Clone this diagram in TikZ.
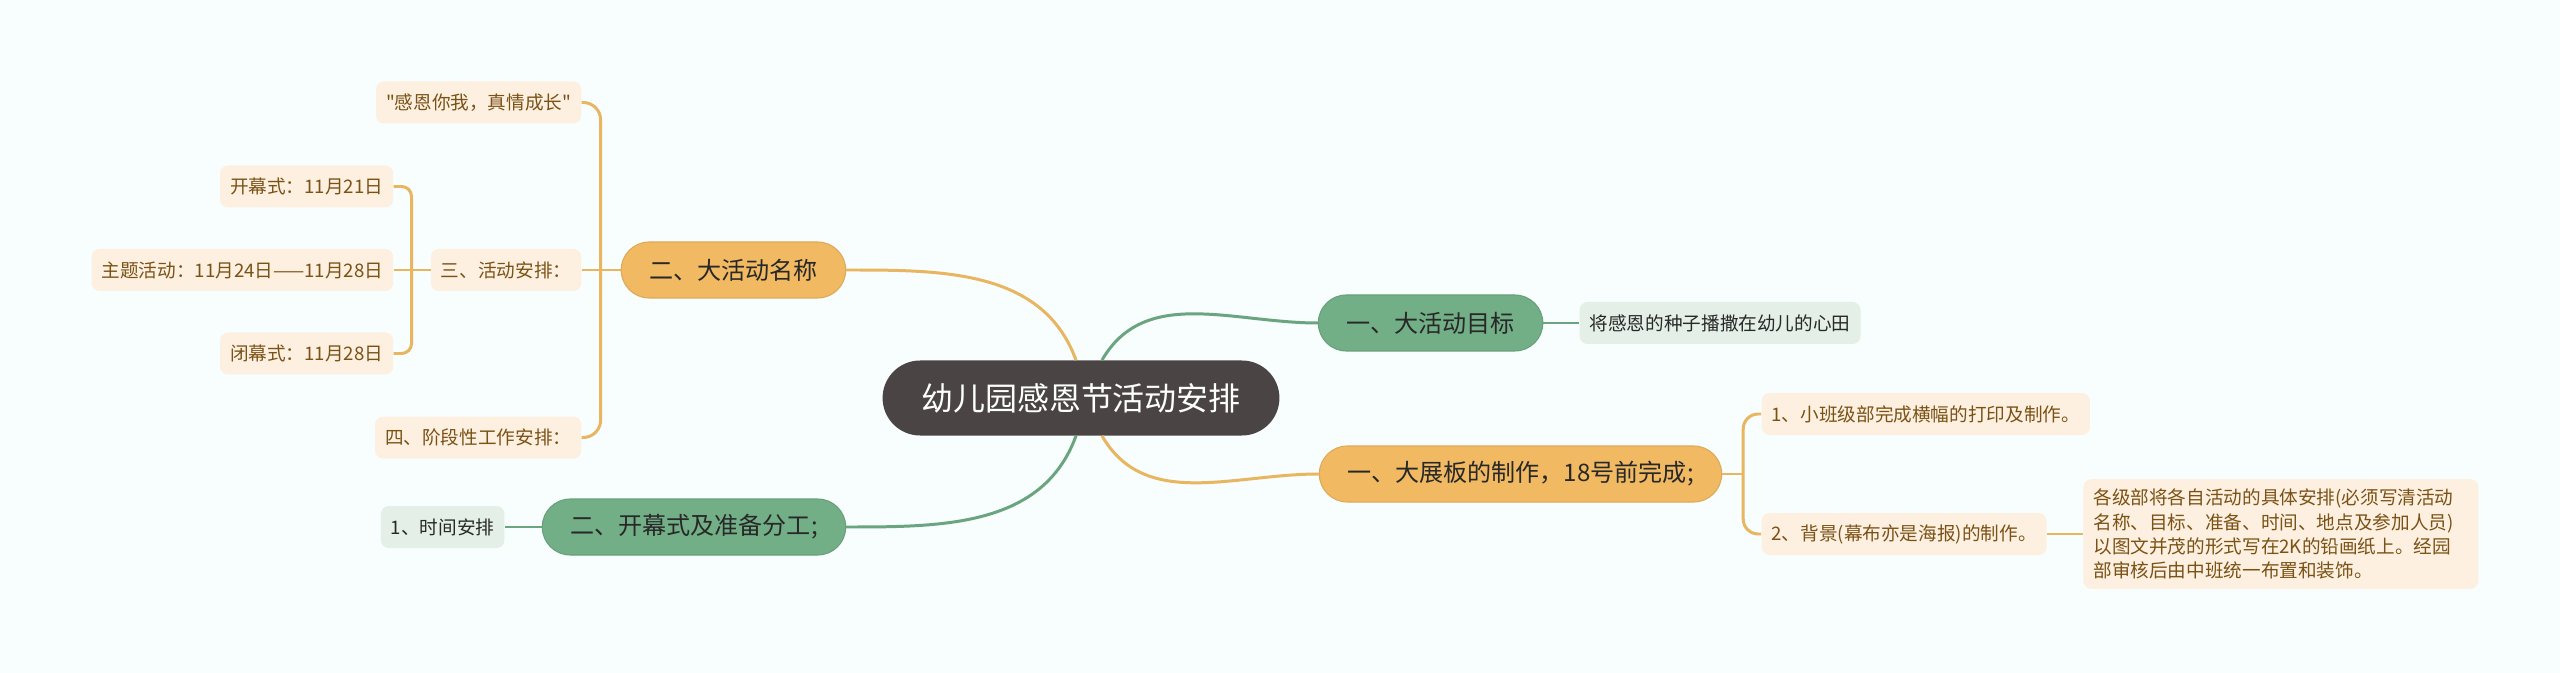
\documentclass[tikz,border=0pt]{standalone}
\usepackage{fontspec}
\setmainfont{Noto Sans CJK SC}[Ligatures=TeXOff]
\usetikzlibrary{positioning}
\definecolor{MapBack}      {RGB}{248,253,253}
\definecolor{MapRoot}      {RGB}{74,69,68}
\definecolor{MapOrange}    {RGB}{240,185,98}
\definecolor{MapOrangeLine}{RGB}{232,181,96}
\definecolor{MapGreen}     {RGB}{114,174,134}
\definecolor{MapGreenLine} {RGB}{106,165,128}
\definecolor{LeafOrange}   {RGB}{253,240,224}
\definecolor{LeafGreen}    {RGB}{227,239,231}
\definecolor{LeafText}     {RGB}{122,82,22}
\definecolor{MapText}      {RGB}{40,40,40}

\begin{document}
\begin{tikzpicture}[
  root/.style={rectangle, rounded corners=0.75cm, minimum height=1.5cm,
               inner xsep=0.77cm, fill=MapRoot, text=white,
               font=\fontsize{18.2}{22}\selectfont},
  branch/.style={rectangle, rounded corners=0.56cm, minimum height=1.12cm,
                 inner xsep=0.56cm, text=MapText, line width=0.6pt,
                 font=\fontsize{13.7}{16}\selectfont},
  obranch/.style={branch, fill=MapOrange, draw=MapOrange!92!black},
  gbranch/.style={branch, fill=MapGreen, draw=MapGreen!92!black},
  leaf/.style={rectangle, rounded corners=0.16cm, minimum height=0.84cm,
               inner xsep=0.2cm, font=\fontsize{10.6}{13.7}\selectfont},
  oleaf/.style={leaf, fill=LeafOrange, text=LeafText},
  gleaf/.style={leaf, fill=LeafGreen, text=MapText},
  oline/.style={draw=MapOrangeLine, line width=1.7pt},
  gline/.style={draw=MapGreenLine, line width=1.7pt}
]

\fill[MapBack] (0,0) rectangle (51.2,-13.46);
\useasboundingbox (0,0) rectangle (51.2,-13.46);

\node[root] (root) at (21.62,-7.96) {幼儿园感恩节活动安排};

% right side
\node[gbranch, right=0.76cm of root, yshift=1.5cm]  (goal) {一、大活动目标};
\node[gleaf, right=0.72cm of goal]                  (seed) {将感恩的种子播撒在幼儿的心田};
\node[obranch, right=0.78cm of root, yshift=-1.52cm] (board) {一、大展板的制作，18号前完成;};
\node[oleaf, right=0.78cm of board, yshift=1.2cm]   (banner) {1、小班级部完成横幅的打印及制作。};
\node[oleaf, right=0.78cm of board, yshift=-1.2cm]  (backdrop) {2、背景(幕布亦是海报)的制作。};
\node[oleaf, right=0.72cm of backdrop, align=left, text width=7.5cm,
      inner ysep=0.2cm] (detail)
      {各级部将各自活动的具体安排(必须写清活动\\
       名称、目标、准备、时间、地点及参加人员)\\
       以图文并茂的形式写在2K的铅画纸上。经园\\
       部审核后由中班统一布置和装饰。};

% left side
\node[obranch, left=0.72cm of root, yshift=2.56cm]  (name) {二、大活动名称};
\node[oleaf, left=0.78cm of name, yshift=3.35cm]    (slogan) {"感恩你我，真情成长"};
\node[oleaf, left=0.78cm of name]                   (plan) {三、活动安排：};
\node[oleaf, left=0.78cm of name, yshift=-3.35cm]   (stage) {四、阶段性工作安排：};
\node[oleaf, left=0.74cm of plan, yshift=1.67cm]    (opening) {开幕式：11月21日};
\node[oleaf, left=0.74cm of plan]                   (theme) {主题活动：11月24日——11月28日};
\node[oleaf, left=0.74cm of plan, yshift=-1.67cm]   (closing) {闭幕式：11月28日};
\node[gbranch, left=0.72cm of root, yshift=-2.58cm] (prep) {二、开幕式及准备分工;};
\node[gleaf, left=0.74cm of prep]                   (timing) {1、时间安排};

% main curves
\draw[oline] ([xshift=-0.1cm]root.north) to[out=110, in=0]   (name.east);
\draw[gline] ([xshift=0.42cm]root.north) to[out=60, in=180]  (goal.west);
\draw[oline] ([xshift=0.42cm]root.south) to[out=-60, in=180] (board.west);
\draw[gline] ([xshift=-0.1cm]root.south) to[out=-110, in=0]  (prep.east);

% brackets
\draw[gline] (goal.east) -- (seed.west);
\draw[gline] (prep.west) -- (timing.east);
\draw[oline] (backdrop.east) -- (detail.west);

\draw[oline] (board.east) -- ++(0.42,0) coordinate (boardJ);
\draw[oline, rounded corners=0.3cm] (boardJ) |- (banner.west);
\draw[oline, rounded corners=0.3cm] (boardJ) |- (backdrop.west);

\draw[oline] (name.west) -- ++(-0.4,0) coordinate (nameJ);
\draw[oline, rounded corners=0.35cm] (nameJ) |- (slogan.east);
\draw[oline] (nameJ) -- (plan.east);
\draw[oline, rounded corners=0.35cm] (nameJ) |- (stage.east);

\draw[oline] (plan.west) -- ++(-0.38,0) coordinate (planJ);
\draw[oline, rounded corners=0.2cm] (planJ) |- (opening.east);
\draw[oline] (planJ) -- (theme.east);
\draw[oline, rounded corners=0.2cm] (planJ) |- (closing.east);

\end{tikzpicture}
\end{document}
